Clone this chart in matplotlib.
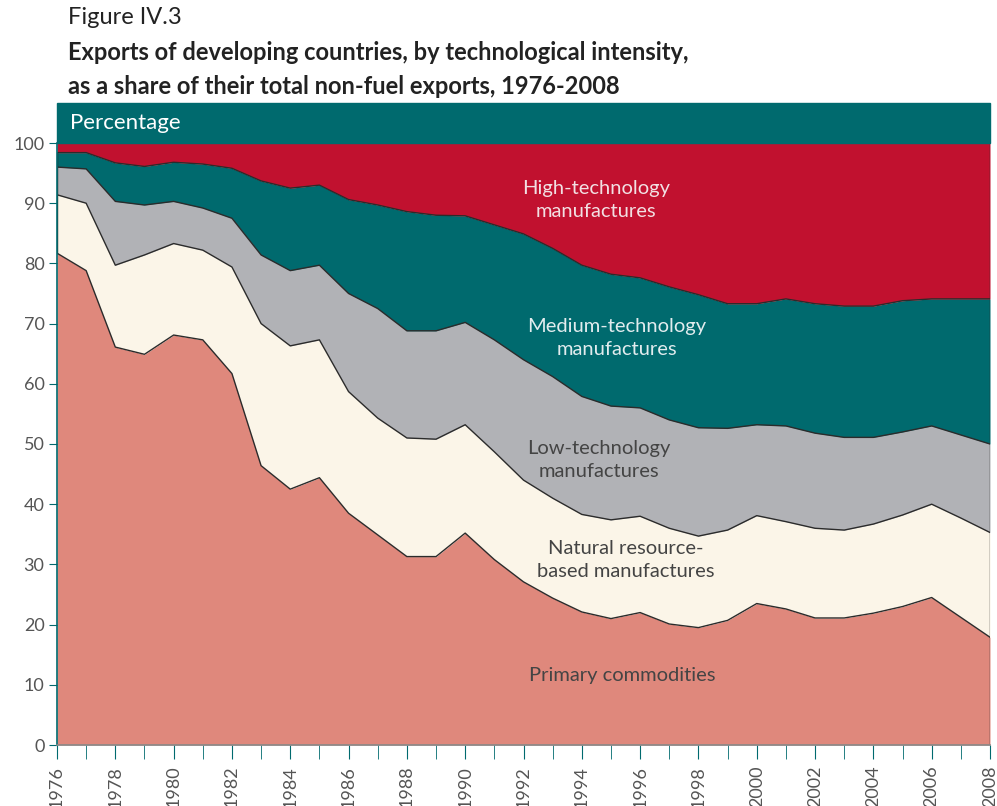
import numpy as np
import matplotlib.pyplot as plt
from matplotlib.patches import Rectangle

plt.rcParams['font.family'] = ['Lato', 'DejaVu Sans']

years = list(range(1976, 2009))

# shares of total non-fuel exports (%)
primary = [81.7, 78.8, 66.1, 64.9, 68.1, 67.3, 61.7, 46.4, 42.5, 44.4, 38.5,
           34.9, 31.3, 31.3, 35.2, 30.8, 27.1, 24.4, 22.1, 21.0, 22.0, 20.1,
           19.5, 20.7, 23.5, 22.6, 21.1, 21.1, 21.9, 23.0, 24.5, 21.2, 17.9]
natural = [9.7, 11.2, 13.6, 16.5, 15.2, 14.9, 17.7, 23.6, 23.8, 22.9, 20.2,
           19.4, 19.7, 19.5, 18.0, 17.9, 16.9, 16.6, 16.2, 16.4, 16.0, 15.9,
           15.2, 15.0, 14.6, 14.5, 14.9, 14.6, 14.8, 15.2, 15.5, 16.5, 17.4]
low_tech = [4.6, 5.7, 10.6, 8.3, 7.0, 7.0, 8.1, 11.4, 12.5, 12.4, 16.3,
            18.2, 17.8, 18.0, 17.0, 18.6, 20.0, 20.2, 19.6, 18.9, 18.0, 18.0,
            18.0, 16.9, 15.1, 15.9, 15.8, 15.4, 14.4, 13.8, 13.0, 13.8, 14.7]
medium_tech = [2.4, 2.7, 6.4, 6.4, 6.5, 7.3, 8.3, 12.3, 13.7, 13.3, 15.6,
               17.2, 19.8, 19.2, 17.7, 19.1, 20.9, 21.3, 21.8, 21.9, 21.6, 22.1,
               22.1, 20.7, 20.1, 21.1, 21.5, 21.8, 21.8, 21.8, 21.1, 22.6, 24.1]
high_tech = [1.6, 1.6, 3.3, 3.9, 3.2, 3.5, 4.2, 6.3, 7.5, 7.0, 9.4,
             10.3, 11.4, 12.0, 12.1, 13.6, 15.1, 17.5, 20.3, 21.8, 22.4, 23.9,
             25.2, 26.7, 26.7, 25.9, 26.7, 27.1, 27.1, 26.2, 25.9, 25.9, 25.9]

labels = ["Primary commodities", "Natural resource-\nbased manufactures",
          "Low-technology\nmanufactures", "Medium-technology\nmanufactures",
          "High-technology\nmanufactures"]
colors = ['#df887c', '#fbf5e8', '#b1b2b6', '#006a6e', '#c1112f']
text_colors = ['#444444', '#444444', '#444444', '#e2ecee', '#f2e0e3']
label_pos = [(1995.4, 11.6), (1995.5, 30.7), (1994.6, 47.3), (1995.2, 67.6), (1994.5, 90.5)]

TEAL = '#006a6e'

fig = plt.figure(figsize=(9.97, 8.06), dpi=100)
ax = fig.add_axes([57 / 997, 61 / 806, 933 / 997, 602 / 806])

series = [primary, natural, low_tech, medium_tech, high_tech]
stack = np.cumsum(np.array(series), axis=0)
x = np.array(years)

bottom = np.zeros(len(years))
for i, s in enumerate(series):
    top = stack[i]
    ax.fill_between(x, bottom, top, color=colors[i], linewidth=0, zorder=1)
    if i < len(series) - 1:
        ax.plot(x, top, color='#2b2b2b', linewidth=1.0, zorder=2)
    bottom = top

# end edges
ax.plot([x[0], x[0]], [stack[0][0], stack[3][0]], color='#2b2b2b', lw=1.0, zorder=2)
ax.plot([x[-1], x[-1]], [0, 100], color='#2b2b2b', lw=1.0, zorder=2)

for (lx, ly), lab, tc in zip(label_pos, labels, text_colors):
    ax.text(lx, ly, lab, ha='center', va='center', fontsize=14.5, color=tc,
            linespacing=1.45)

ax.set_xlim(1976, 2008)
ax.set_ylim(0, 100)
ax.set_yticks(range(0, 101, 10))
ax.set_xticks(range(1976, 2009, 2))
ax.set_xticks(range(1977, 2009, 2), minor=True)
ax.set_xticklabels([str(y) for y in range(1976, 2009, 2)], rotation=90)

ax.tick_params(axis='y', colors=TEAL, labelcolor='#555555', labelsize=13,
               length=6, direction='out', pad=3)
ax.tick_params(axis='x', which='both', colors=TEAL, labelcolor='#555555',
               labelsize=13, length=10, direction='out', pad=5)

for side in ['top', 'right']:
    ax.spines[side].set_visible(False)
ax.spines['left'].set_color(TEAL)
ax.spines['left'].set_linewidth(1.2)
ax.spines['bottom'].set_color('#888888')
ax.spines['bottom'].set_linewidth(1.2)

# header band
fig.patches.append(Rectangle((57 / 997, 663 / 806), 933 / 997, 40 / 806,
                             transform=fig.transFigure, color=TEAL, zorder=0))
fig.text(70 / 997, 683 / 806, "Percentage", color='white', fontsize=16,
         va='center', ha='left')

fig.text(68 / 997, 788 / 806, "Figure IV.3", fontsize=17, va='center', ha='left',
         color='#222222')
fig.text(68 / 997, 754 / 806, "Exports of developing countries, by technological intensity,",
         fontsize=17, fontweight='bold', va='center', ha='left', color='#222222')
fig.text(68 / 997, 719 / 806, "as a share of their total non-fuel exports, 1976-2008",
         fontsize=17, fontweight='bold', va='center', ha='left', color='#222222')

fig.savefig('out.png', dpi=100)
